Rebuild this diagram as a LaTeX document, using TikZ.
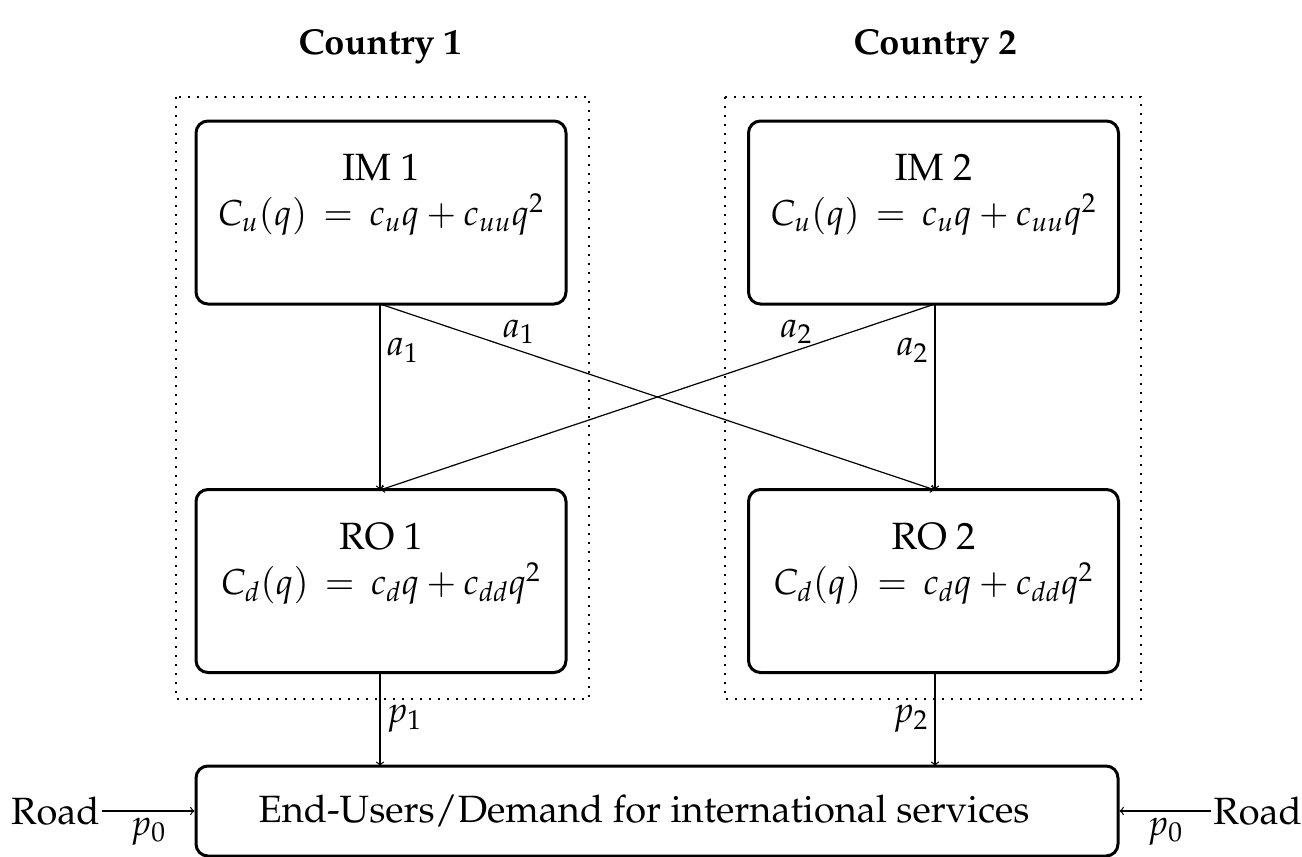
\documentclass[tikz,border=0pt]{standalone}
\usepackage[T1]{fontenc}
\usepackage{mathpazo}
\newcommand{\mathsz}{\fontsize{18}{22.5}\selectfont}
\begin{document}
\begin{tikzpicture}[x=0.5pt,y=-0.5pt,
  every node/.style={font=\fontsize{19}{22.5}\selectfont},
  agent/.style={draw,line width=1.5pt,rounded corners=6pt,minimum width=185pt,minimum height=91.5pt,align=center,inner sep=0pt},
  endbox/.style={draw,line width=1.5pt,rounded corners=6pt,minimum width=461pt,minimum height=45pt,inner sep=0pt},
  flow/.style={->,line width=0.6pt},
  lbl/.style={inner sep=3pt,font=\mathsz},
  region/.style={line width=0.8pt,dash pattern=on 0.9pt off 3.6pt}]
\useasboundingbox (0,0) rectangle (1302,857);
% country regions
\draw[region] (176,97) rectangle (589,699);
\draw[region] (725,97) rectangle (1141,699);
\node[font=\fontsize{18}{22.5}\selectfont\bfseries] (c1) at (380,47) {Country 1};
\node[font=\fontsize{18}{22.5}\selectfont\bfseries] (c2) at (935,47) {Country 2};
% boxes
\node[agent] (im1) at (381,212.5) {IM 1\\{\mathsz$C_u(q) \,=\, c_u q + c_{uu} q^2$}\\\mbox{}};
\node[agent] (im2) at (933.5,212.5) {IM 2\\{\mathsz$C_u(q) \,=\, c_u q + c_{uu} q^2$}\\\mbox{}};
\node[agent] (ro1) at (381,581) {RO 1\\{\mathsz$C_d(q) \,=\, c_d q + c_{dd} q^2$}\\\mbox{}};
\node[agent] (ro2) at (933.5,581) {RO 2\\{\mathsz$C_d(q) \,=\, c_d q + c_{dd} q^2$}\\\mbox{}};
\node[endbox] (eu) at (657,811) {End-Users/Demand for international services\kern13pt\mbox{}};
\node[anchor=east,inner sep=1pt] (road1) at (102,811) {Road};
\node[anchor=west,inner sep=1pt] (road2) at (1211,811) {Road};
% connectors
\coordinate (im1s) at (380,304);
\coordinate (im2s) at (935,304);
\coordinate (ro1n) at (380,490);
\coordinate (ro2n) at (935,490);
\coordinate (ro1s) at (380,672);
\coordinate (ro2s) at (935,672);
\coordinate (eu1) at (380,766);
\coordinate (eu2) at (935,766);
\draw[flow] (im1s) -- node[lbl,pos=0.25,right]{$a_1$} (ro1n);
\draw[flow] (im1s) -- node[lbl,pos=0.25,above]{$a_1$} (ro2n);
\draw[flow] (im2s) -- node[lbl,pos=0.25,above]{$a_2$} (ro1n);
\draw[flow] (im2s) -- node[lbl,pos=0.25,left]{$a_2$} (ro2n);
\draw[flow] (ro1s) -- node[lbl,pos=0.5,right]{$p_1$} (eu1);
\draw[flow] (ro2s) -- node[lbl,pos=0.5,left]{$p_2$} (eu2);
\draw[flow] (road1.east) -- node[lbl,pos=0.5,below]{$p_0$} (eu.west);
\draw[flow] (road2.west) -- node[lbl,pos=0.5,below]{$p_0$} (eu.east);
\end{tikzpicture}
\end{document}
